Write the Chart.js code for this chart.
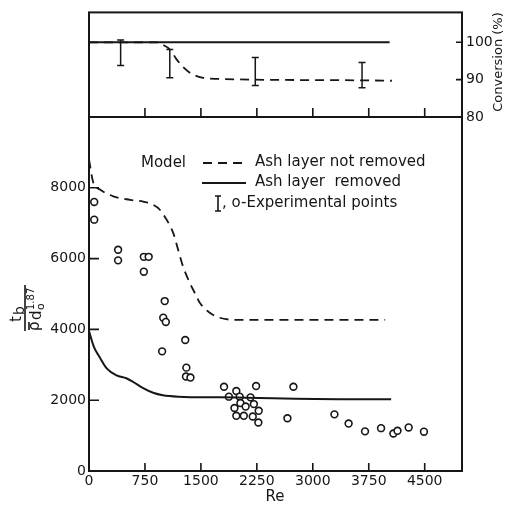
<!DOCTYPE html>
<html>
<head>
<meta charset="utf-8">
<script src="https://cdn.jsdelivr.net/npm/chart.js@4.4.1/dist/chart.umd.min.js"></script>
<style>
  html, body { margin: 0; padding: 0; background: #fff; }
  #wrap { position: relative; width: 506px; height: 510px; }
  #wrap canvas { position: absolute; left: 0; top: 0; }
</style>
</head>
<body>
<div id="wrap">
  <canvas id="timeChart" width="506" height="510"></canvas>
  <canvas id="convChart" width="506" height="510"></canvas>
</div>
<script>
// experimental breakthrough times vs Re
const expRe = [70, 70, 390, 390, 735, 800, 735,
  1015, 995, 1030, 1290, 980, 1305, 1300, 1360,
  1810, 2240, 2740, 1975, 1875, 2020, 2165, 2030, 2100, 2210, 1950, 2275,
  1975, 2075, 2195, 2270, 2660, 3290, 3480, 3700, 3915, 4080, 4135, 4285, 4490];
const expTime = [7600, 7100, 6250, 5950, 6050, 6050, 5630,
  4800, 4330, 4210, 3700, 3380, 2920, 2670, 2640,
  2380, 2400, 2380, 2260, 2100, 2100, 2080, 1920, 1820, 1890, 1780, 1700,
  1560, 1560, 1540, 1370, 1490, 1600, 1340, 1120, 1210, 1060, 1135, 1230, 1110];

// model: ash layer removed
const removedRe = [0, 67, 147, 237, 370, 500, 590, 720, 860, 990, 1200, 1750, 3350, 4050];
const removedTime = [3950, 3500, 3200, 2900, 2700, 2620, 2520, 2350, 2210, 2140, 2100, 2080, 2030, 2030];

// model: ash layer not removed
const notRemovedRe = [0, 57, 147, 325, 550, 725, 840, 950, 1040, 1130, 1195, 1260, 1350, 1440, 1485, 1620, 1750, 1975, 3970];
const notRemovedTime = [8800, 8150, 7950, 7760, 7660, 7610, 7540, 7380, 7100, 6720, 6250, 5780, 5320, 4940, 4750, 4470, 4330, 4270, 4270];

// conversion panel
const convRemovedRe = [0, 4030];
const convRemoved = [100, 100];
const convNotRemovedRe = [0, 905, 993, 1083, 1172, 1261, 1373, 1528, 1752, 2197, 3713, 4060];
const convNotRemoved = [100, 100, 99.3, 98.1, 95.5, 93.4, 91.6, 90.5, 90.2, 90.0, 89.8, 89.7];
const errRe = [424, 1083, 2229, 3660];
const errLow = [93.8, 90.5, 88.4, 87.8];
const errHigh = [100.6, 98.1, 95.9, 94.6];

const reTicks = [0, 750, 1500, 2250, 3000, 3750, 4500];
const timeTicks = [0, 2000, 4000, 6000, 8000];
const convTicks = [80, 90, 100];

const ink = '#161616';
const face = 'DejaVu Sans';

const pts = (xs, ys) => xs.map((x, i) => ({ x: x, y: ys[i] }));
const plain = v => String(v);

// box around the plot area plus inward tick marks
const frame = {
  id: 'frame',
  afterDraw(chart, args, opts) {
    const { ctx, chartArea: a, scales } = chart;
    ctx.save();
    ctx.strokeStyle = ink;
    ctx.lineWidth = 2;
    ctx.strokeRect(a.left, a.top, a.right - a.left, a.bottom - a.top);
    ctx.lineWidth = 1.6;
    ctx.beginPath();
    (opts.xTicks || []).forEach(v => {
      const px = scales.x.getPixelForValue(v);
      ctx.moveTo(px, a.bottom);
      ctx.lineTo(px, a.bottom - opts.xLen);
    });
    (opts.yTicks || []).forEach(v => {
      const py = scales.y.getPixelForValue(v);
      if (opts.yRight) {
        ctx.moveTo(a.right, py);
        ctx.lineTo(a.right - opts.yLen, py);
      } else {
        ctx.moveTo(a.left, py);
        ctx.lineTo(a.left + opts.yLen, py);
      }
    });
    ctx.stroke();
    ctx.restore();
  }
};

// axis titles and the legend block
const labels = {
  id: 'labels',
  afterDraw(chart) {
    const ctx = chart.ctx;
    ctx.save();
    ctx.fillStyle = ink;
    ctx.strokeStyle = ink;

    // x title
    ctx.font = '15px "' + face + '"';
    ctx.textAlign = 'center';
    ctx.textBaseline = 'middle';
    ctx.fillText('Re', 275, 497);

    // y title: t_b / (rho d_o^1.87), rotated
    ctx.save();
    ctx.translate(25, 308);
    ctx.rotate(-Math.PI / 2);
    ctx.textAlign = 'left';
    ctx.textBaseline = 'alphabetic';
    ctx.font = '15px "' + face + '"';
    ctx.fillText('t', -14, -4);
    ctx.font = '14px "' + face + '"';
    ctx.fillText('b', -7, -1);
    ctx.lineWidth = 1.6;
    ctx.beginPath();
    ctx.moveTo(-23, 0);
    ctx.lineTo(23, 0);
    ctx.moveTo(-22, 4);
    ctx.lineTo(-14, 4);
    ctx.stroke();
    ctx.font = '15px "' + face + '"';
    ctx.fillText('\u03C1', -23, 14);
    ctx.fillText('d', -12, 16);
    ctx.font = '11px "' + face + '"';
    ctx.fillText('o', -2, 19);
    ctx.font = '10px "' + face + '"';
    ctx.fillText('1.87', -2, 9);
    ctx.restore();

    // legend
    ctx.font = '15px "' + face + '"';
    ctx.textAlign = 'left';
    ctx.textBaseline = 'middle';
    ctx.fillText('Model', 141, 163);
    ctx.fillText('Ash layer not removed', 255, 162);
    ctx.fillText('Ash layer  removed', 255, 182);
    ctx.fillText(', o-Experimental points', 222, 203);

    ctx.lineWidth = 1.8;
    ctx.setLineDash([9, 6]);
    ctx.beginPath();
    ctx.moveTo(203, 163);
    ctx.lineTo(246, 163);
    ctx.stroke();
    ctx.setLineDash([]);
    ctx.beginPath();
    ctx.moveTo(202, 183);
    ctx.lineTo(246, 183);
    ctx.stroke();

    // error bar glyph
    ctx.lineWidth = 1.6;
    ctx.beginPath();
    ctx.moveTo(218, 196);
    ctx.lineTo(218, 211);
    ctx.moveTo(215, 196);
    ctx.lineTo(221, 196);
    ctx.moveTo(215, 211);
    ctx.lineTo(221, 211);
    ctx.stroke();
    ctx.restore();
  }
};

const convTitle = {
  id: 'convTitle',
  afterDraw(chart) {
    const ctx = chart.ctx;
    ctx.save();
    ctx.fillStyle = ink;
    ctx.translate(499, 62);
    ctx.rotate(-Math.PI / 2);
    ctx.font = '13px "' + face + '"';
    ctx.textAlign = 'center';
    ctx.textBaseline = 'middle';
    ctx.fillText('Conversion (%)', 0, 0);
    ctx.restore();
  }
};

const tickFont = { family: face, size: 14 };

new Chart(document.getElementById('timeChart'), {
  type: 'scatter',
  data: {
    datasets: [{
      label: 'Ash layer not removed',
      data: pts(notRemovedRe, notRemovedTime),
      showLine: true,
      borderColor: ink,
      borderWidth: 1.8,
      borderDash: [9, 6],
      pointRadius: 0,
      cubicInterpolationMode: 'monotone'
    }, {
      label: 'Ash layer removed',
      data: pts(removedRe, removedTime),
      showLine: true,
      borderColor: ink,
      borderWidth: 2,
      pointRadius: 0,
      cubicInterpolationMode: 'monotone'
    }, {
      label: 'Experimental points',
      data: pts(expRe, expTime),
      showLine: false,
      borderColor: ink,
      backgroundColor: '#fff',
      pointRadius: 3.4,
      pointBorderWidth: 1.6
    }]
  },
  options: {
    responsive: false,
    animation: false,
    layout: { padding: { top: 117, right: 44, left: 0, bottom: 0 } },
    plugins: {
      legend: { display: false },
      tooltip: { enabled: false },
      frame: { xTicks: reTicks.slice(1), xLen: 8, yTicks: timeTicks.slice(1), yLen: 10 }
    },
    scales: {
      x: {
        type: 'linear',
        min: 0,
        max: 5000,
        afterBuildTicks: s => { s.ticks = reTicks.map(v => ({ value: v })); },
        afterFit: s => { s.height = 39; },
        grid: { display: false, drawTicks: false },
        border: { display: false },
        ticks: { font: tickFont, color: ink, padding: 2, maxRotation: 0, autoSkip: false, callback: plain }
      },
      y: {
        min: 0,
        max: 10000,
        afterBuildTicks: s => { s.ticks = timeTicks.map(v => ({ value: v })); },
        afterFit: s => { s.width = 89; },
        grid: { display: false, drawTicks: false },
        border: { display: false },
        ticks: { font: tickFont, color: ink, padding: 3, callback: plain }
      }
    }
  },
  plugins: [frame, labels]
});

const errSets = errRe.map((x, i) => ({
  label: 'error ' + (i + 1),
  data: [{ x: x, y: errLow[i] }, { x: x, y: errHigh[i] }],
  showLine: true,
  borderColor: ink,
  borderWidth: 1.5,
  pointStyle: 'line',
  pointRadius: 3.5,
  pointBorderWidth: 1.5
}));

new Chart(document.getElementById('convChart'), {
  type: 'scatter',
  data: {
    datasets: [{
      label: 'Ash layer removed',
      data: pts(convRemovedRe, convRemoved),
      showLine: true,
      borderColor: ink,
      borderWidth: 2,
      pointRadius: 0
    }, {
      label: 'Ash layer not removed',
      data: pts(convNotRemovedRe, convNotRemoved),
      showLine: true,
      borderColor: ink,
      borderWidth: 1.8,
      borderDash: [9, 6],
      pointRadius: 0,
      cubicInterpolationMode: 'monotone'
    }].concat(errSets)
  },
  options: {
    responsive: false,
    animation: false,
    layout: { padding: { top: 8, right: 0, left: 89, bottom: 393 } },
    plugins: {
      legend: { display: false },
      tooltip: { enabled: false },
      frame: { xTicks: reTicks.slice(1), xLen: 9, yTicks: convTicks, yLen: 6, yRight: true }
    },
    scales: {
      x: { type: 'linear', min: 0, max: 5000, display: false },
      y: {
        position: 'right',
        min: 80,
        max: 108,
        afterBuildTicks: s => { s.ticks = convTicks.map(v => ({ value: v })); },
        afterFit: s => { s.width = 44; },
        grid: { display: false, drawTicks: false },
        border: { display: false },
        ticks: { font: tickFont, color: ink, padding: 4, callback: plain }
      }
    }
  },
  plugins: [frame, convTitle]
});
</script>
</body>
</html>
